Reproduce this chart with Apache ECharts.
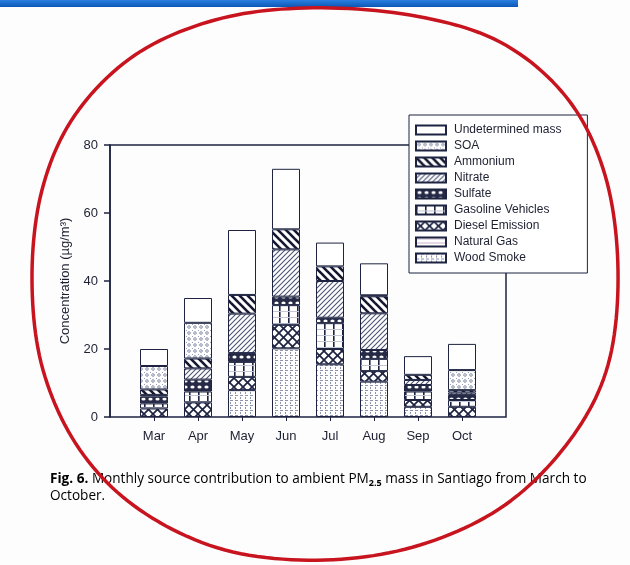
<!DOCTYPE html>
<html>
<head>
<meta charset="utf-8">
<title>Monthly source contribution to PM2.5 in Santiago</title>
<script src="https://cdn.jsdelivr.net/npm/echarts@6/dist/echarts.min.js"></script>
<style>
  html, body { margin: 0; padding: 0; background: #fdfdfe; }
  #chart { width: 630px; height: 565px; }
</style>
</head>
<body>
<div id="chart"></div>
<script>
// Months on the x axis
const months = ['Mar', 'Apr', 'May', 'Jun', 'Jul', 'Aug', 'Sep', 'Oct'];
const yTicks = [0, 20, 40, 60, 80];

// Source contributions (µg/m³), stacked from the bottom up
const woodSmoke     = [0,   0,   7.9,  20.2, 15.5, 10.4, 3.0, 0];
const naturalGas    = [0,   0,   0,    0,    0,    0,    0,   0];
const dieselEmission= [2.5, 4.3, 3.9,  6.9,  4.5,  3.1,  2.0, 3.0];
const gasolineVeh   = [1.5, 3.2, 4.4,  5.8,  7.6,  3.6,  2.5, 2.0];
const sulfate       = [2.0, 3.5, 2.6,  2.5,  1.6,  2.6,  1.9, 1.5];
const nitrate       = [0.5, 3.3, 11.6, 13.9, 10.8, 10.8, 1.5, 0.7];
const ammonium      = [1.6, 2.9, 5.5,  5.9,  4.3,  5.0,  1.5, 0.7];
const soa           = [6.9, 10.5, 0,   0,    0,    0.3,  0,   5.9];
const undetermined  = [5.0, 7.3, 19.1, 17.8, 7.0,  9.4,  5.5, 7.7];

const INK = '#1d2340';

// Small repeating canvas tiles used as hatch fills
function tile(w, h, draw) {
  const c = document.createElement('canvas');
  c.width = w; c.height = h;
  const g = c.getContext('2d');
  g.fillStyle = '#ffffff';
  g.fillRect(0, 0, w, h);
  draw(g, w, h);
  return { image: c, repeat: 'repeat' };
}
function line(g, x1, y1, x2, y2) {
  g.beginPath(); g.moveTo(x1, y1); g.lineTo(x2, y2); g.stroke();
}

const fills = {
  wood: tile(5, 5, g => {
    g.fillStyle = '#8e94ac';
    g.fillRect(0, 0, 3, 1);
    g.fillRect(0, 2, 1, 2);
  }),
  natgas: tile(4, 4, g => {
    g.fillStyle = '#c9b6cc';
    g.fillRect(0, 1, 4, 1);
  }),
  diesel: tile(9, 9, g => {
    g.strokeStyle = INK; g.lineWidth = 1.7;
    line(g, -1, -1, 10, 10);
    line(g, 10, -1, -1, 10);
  }),
  gasoline: tile(9, 6, g => {
    g.fillStyle = INK;
    g.fillRect(0, 0, 1.6, 6);
    g.fillStyle = '#c3c7d6';
    g.fillRect(0, 5, 9, 1);
  }),
  sulfate: tile(7, 6, g => {
    g.fillStyle = '#262a46';
    g.fillRect(0, 0, 7, 6);
    g.fillStyle = '#ffffff';
    g.beginPath(); g.ellipse(3.5, 3, 2.1, 1.6, 0, 0, Math.PI * 2); g.fill();
  }),
  nitrate: tile(5, 5, g => {
    g.strokeStyle = '#4b5274'; g.lineWidth = 1.1;
    line(g, 0, 5, 5, 0);
    line(g, -1, 1, 1, -1);
    line(g, 4, 6, 6, 4);
  }),
  ammonium: tile(8, 8, g => {
    g.strokeStyle = '#15182e'; g.lineWidth = 2.6;
    line(g, -1, -1, 9, 9);
    line(g, -5, 3, 5, 13);
    line(g, 3, -5, 13, 5);
  }),
  soa: tile(6, 6, g => {
    g.strokeStyle = '#7d84a0'; g.lineWidth = 0.9;
    g.beginPath(); g.arc(3, 3, 1.3, 0, Math.PI * 2); g.stroke();
    g.fillStyle = '#9aa0b8';
    g.fillRect(0, 0, 1, 1);
  }),
  undet: '#ffffff'
};

// Stacking order, bottom to top
const layers = [
  { name: 'Wood Smoke',        data: woodSmoke,      fill: fills.wood },
  { name: 'Natural Gas',       data: naturalGas,     fill: fills.natgas },
  { name: 'Diesel Emission',   data: dieselEmission, fill: fills.diesel },
  { name: 'Gasoline Vehicles', data: gasolineVeh,    fill: fills.gasoline },
  { name: 'Sulfate',           data: sulfate,        fill: fills.sulfate },
  { name: 'Nitrate',           data: nitrate,        fill: fills.nitrate },
  { name: 'Ammonium',          data: ammonium,       fill: fills.ammonium },
  { name: 'SOA',               data: soa,            fill: fills.soa },
  { name: 'Undetermined mass', data: undetermined,   fill: fills.undet }
];

const series = layers.map(l => ({
  name: l.name,
  type: 'bar',
  stack: 'total',
  barWidth: 28,
  xAxisIndex: 0, yAxisIndex: 0,
  data: l.data.map(v => (v > 0 ? v : '-')),
  itemStyle: { color: l.fill, borderColor: INK, borderWidth: 1 },
  emphasis: { disabled: true }
}));

// Hand-drawn red loop around the figure: a smooth closed curve through these points
const loopPts = [
  [305, 8], [410, 15], [500, 42], [567, 98], [605, 175], [618, 270],
  [608, 365], [570, 440], [505, 505], [420, 545], [325, 560], [225, 550],
  [140, 510], [80, 450], [43, 370], [32, 280], [42, 190], [75, 115],
  [135, 55], [215, 20]
];
function loopPoints(p, steps) {
  const n = p.length, out = [];
  for (let i = 0; i < n; i++) {
    const p0 = p[(i - 1 + n) % n], p1 = p[i], p2 = p[(i + 1) % n], p3 = p[(i + 2) % n];
    for (let s = 0; s < steps; s++) {
      const t = s / steps, t2 = t * t, t3 = t2 * t;
      const f = k => 0.5 * (2 * p1[k] + (-p0[k] + p2[k]) * t +
        (2 * p0[k] - 5 * p1[k] + 4 * p2[k] - p3[k]) * t2 +
        (-p0[k] + 3 * p1[k] - 3 * p2[k] + p3[k]) * t3);
      out.push([f(0), f(1)]);
    }
  }
  return out;
}

const chart = echarts.init(document.getElementById('chart'), null, { renderer: 'canvas' });

chart.setOption({
  backgroundColor: '#fdfdfe',
  animation: false,
  textStyle: { fontFamily: 'Liberation Sans, Arial, sans-serif' },
  grid: [
    // bars
    { left: 132, right: 146, top: 145, bottom: 148 },
    // plot frame
    { left: 110, right: 124, top: 145, bottom: 148, show: true, borderColor: INK, borderWidth: 1.5, backgroundColor: 'transparent' }
  ],
  xAxis: [
    {
      type: 'category', gridIndex: 0,
      data: months,
      boundaryGap: true,
      axisLine: { show: false },
      axisTick: { show: true, alignWithLabel: true, length: 4, inside: false, lineStyle: { color: INK } },
      axisLabel: { fontSize: 13, color: '#1d2030', margin: 13 }
    },
    { type: 'value', gridIndex: 1, show: false, min: 0, max: 1 }
  ],
  yAxis: [
    {
      type: 'value', gridIndex: 0,
      min: yTicks[0], max: yTicks[yTicks.length - 1], interval: 20,
      offset: 22,
      splitLine: { show: false },
      axisLine: { show: true, lineStyle: { color: INK, width: 1.5 } },
      axisTick: { show: true, length: 6, lineStyle: { color: INK, width: 1.5 } },
      axisLabel: { fontSize: 13, color: '#1d2030', margin: 12 },
      name: 'Concentration (µg/m³)',
      nameLocation: 'middle',
      nameGap: 38,
      nameTextStyle: { fontSize: 13, color: '#1d2030' }
    },
    { type: 'value', gridIndex: 1, show: false, min: 0, max: 1 }
  ],
  legend: {
    orient: 'vertical',
    left: 409, top: 115,
    data: layers.map(l => l.name).reverse(),
    icon: 'rect',
    itemWidth: 30, itemHeight: 9, itemGap: 2,
    backgroundColor: '#ffffff',
    borderColor: INK, borderWidth: 1,
    padding: [8, 26, 8, 6],
    selectedMode: false,
    textStyle: { fontSize: 12, lineHeight: 14, color: '#1d2030', padding: [0, 0, 0, 3] }
  },
  series: series,
  graphic: [
    {
      type: 'rect', z: 10,
      shape: { x: 0, y: 0, width: 518, height: 7 },
      style: {
        fill: new echarts.graphic.LinearGradient(0, 0, 0, 1, [
          { offset: 0, color: '#2a7fe0' }, { offset: 1, color: '#0c58b6' }
        ])
      }
    },
    {
      type: 'text', z: 10,
      left: 50, top: 472,
      style: {
        rich: {
          b: { fontFamily: 'Open Sans, sans-serif', fontWeight: 'bold', fontSize: 13.6, color: '#1c2150', lineHeight: 17 },
          t: { fontFamily: 'Open Sans, sans-serif', fontSize: 13.6, color: '#1c2150', lineHeight: 17 },
          s: { fontFamily: 'Open Sans, sans-serif', fontWeight: 'bold', fontSize: 9, color: '#1c2150', lineHeight: 13, verticalAlign: 'bottom' }
        },
        text: '{b|Fig. 6.}{t| Monthly source contribution to ambient PM}{s|2.5}{t| mass in Santiago from March to}\n{t|October.}'
      }
    },
    {
      type: 'polygon', z: 20,
      shape: { points: loopPoints(loopPts, 12) },
      style: { fill: 'none', stroke: '#c8141e', lineWidth: 3.5, lineJoin: 'round' }
    }
  ]
});
</script>
</body>
</html>
